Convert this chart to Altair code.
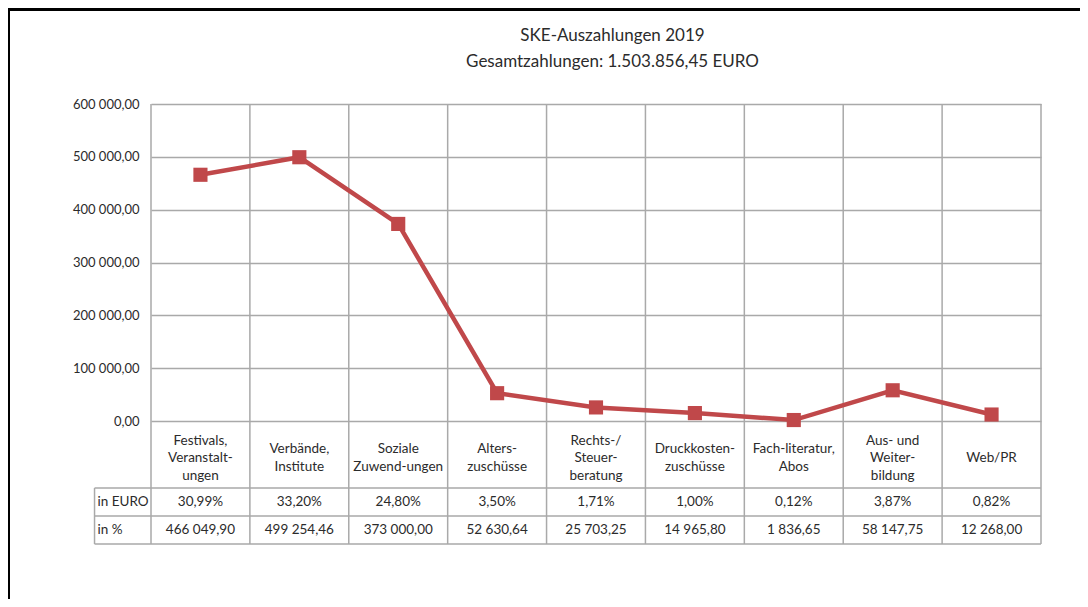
import altair as alt
import pandas as pd

# ---------------- data ----------------
categories = [
    ["Festivals,", "Veranstalt-", "ungen"],
    ["Verbände,", "Institute"],
    ["Soziale", "Zuwend-ungen"],
    ["Alters-", "zuschüsse"],
    ["Rechts-/", "Steuer-", "beratung"],
    ["Druckkosten-", "zuschüsse"],
    ["Fach-literatur,", "Abos"],
    ["Aus- und", "Weiter-", "bildung"],
    ["Web/PR"],
]
values_euro = [466049.90, 499254.46, 373000.00, 52630.64, 25703.25,
               14965.80, 1836.65, 58147.75, 12268.00]
percent_labels = ["30,99%", "33,20%", "24,80%", "3,50%", "1,71%",
                  "1,00%", "0,12%", "3,87%", "0,82%"]
euro_labels = ["466 049,90", "499 254,46", "373 000,00", "52 630,64", "25 703,25",
               "14 965,80", "1 836,65", "58 147,75", "12 268,00"]
row_headers = ["in EURO", "in %"]
y_ticks = [0, 100000, 200000, 300000, 400000, 500000, 600000]
title_lines = ["SKE-Auszahlungen 2019", "Gesamtzahlungen: 1.503.856,45 EURO"]

# ---------------- layout ----------------
N = len(categories)
W, H = 890, 440
Y_MAX = 600000
Y_MIN = -232800          # bottom of table
ROW1_TOP = -126800       # bottom of category-label band
ROW2_TOP = -179800
ROW1_MID = -153300
ROW2_MID = -206300
HEAD_LEFT = -0.571
PAD_L, PAD_T, PAD_R, PAD_B = 143, 96, 39, 55
X_PER_PX = N / W
Y_PER_PX = (Y_MAX - Y_MIN) / H
CAT_MID_PX = 37          # px below the zero line
CAT_LINE_H = 17.5
TITLE_X = (613 - 151.5) * X_PER_PX
TITLE_Y_PX = [68, 42]    # px above the plot top

FONT = "Lato"
GRID = "#a9a9a9"
TXT = "#2b2b2b"
RED = "#c0484a"
FS = 13.5

xs = alt.Scale(domain=[0, N], nice=False, zero=False)
ys = alt.Scale(domain=[Y_MIN, Y_MAX], nice=False, zero=False)
yaxis = alt.Axis(
    values=y_ticks, grid=True, gridColor=GRID, gridWidth=1.5, domain=False,
    ticks=False, labelPadding=12, labelFont=FONT, labelFontSize=13,
    labelColor=TXT, title=None,
    labelExpr="replace(replace(replace(format(datum.value, ',.2f'), '.', '#'), ',', ' '), '#', ',')",
)


def X(field):
    return alt.X(field, scale=xs, axis=None)


def Y(field):
    return alt.Y(field, scale=ys, axis=yaxis)


df = pd.DataFrame({
    "pos": [i + 0.5 for i in range(N)],
    "value": values_euro,
    "cat": ["\n".join(c) for c in categories],
    "pct": percent_labels,
    "eur": euro_labels,
    # first line of each label so that the block is centred in its band
    "cat_y": [-(CAT_MID_PX - (len(c) - 1) * CAT_LINE_H / 2) * Y_PER_PX for c in categories],
    "r1_y": [ROW1_MID] * N,
    "r2_y": [ROW2_MID] * N,
})

# vertical grid / table lines
vx = [float(i) for i in range(N + 1)] + [HEAD_LEFT]
vy1 = [float(Y_MAX)] * (N + 1) + [float(ROW1_TOP)]
vy2 = [float(Y_MIN)] * (N + 2)
vlines = pd.DataFrame({"x": vx, "y1": vy1, "y2": vy2})
v_rules = alt.Chart(vlines).mark_rule(color=GRID, strokeWidth=1.5).encode(
    x=X("x:Q"), y=Y("y1:Q"), y2="y2:Q",
)

hlines = pd.DataFrame({"y": [ROW1_TOP, ROW2_TOP, Y_MIN],
                       "x1": [HEAD_LEFT] * 3, "x2": [float(N)] * 3})
h_rules = alt.Chart(hlines).mark_rule(color=GRID, strokeWidth=1.5).encode(
    y=Y("y:Q"), x=X("x1:Q"), x2="x2:Q",
)

line = alt.Chart(df).mark_line(color=RED, strokeWidth=4.5).encode(
    x=X("pos:Q"), y=Y("value:Q"),
)
points = alt.Chart(df).mark_point(
    shape="square", filled=True, color=RED, size=200, opacity=1).encode(
    x=X("pos:Q"), y=Y("value:Q"),
)

cat_text = alt.Chart(df).mark_text(
    font=FONT, fontSize=FS, color=TXT, lineBreak="\n", lineHeight=CAT_LINE_H,
    align="center", baseline="middle").encode(
    x=X("pos:Q"), y=Y("cat_y:Q"), text="cat:N",
)
pct_text = alt.Chart(df).mark_text(
    font=FONT, fontSize=FS, color=TXT, align="center", baseline="middle").encode(
    x=X("pos:Q"), y=Y("r1_y:Q"), text="pct:N",
)
eur_text = alt.Chart(df).mark_text(
    font=FONT, fontSize=FS, color=TXT, align="center", baseline="middle").encode(
    x=X("pos:Q"), y=Y("r2_y:Q"), text="eur:N",
)
hdr = pd.DataFrame({"label": row_headers, "y": [ROW1_MID, ROW2_MID],
                    "x": [HEAD_LEFT] * 2})
hdr_text = alt.Chart(hdr).mark_text(
    font=FONT, fontSize=FS, color=TXT, align="left", baseline="middle", dx=3).encode(
    x=X("x:Q"), y=Y("y:Q"), text="label:N",
)

# chart title (two centred lines)
ttl = pd.DataFrame({"t": title_lines, "x": [TITLE_X] * 2,
                    "y": [Y_MAX + p * Y_PER_PX for p in TITLE_Y_PX]})
title_text = alt.Chart(ttl).mark_text(
    font=FONT, fontSize=17, color=TXT, align="center", baseline="middle").encode(
    x=X("x:Q"), y=Y("y:Q"), text="t:N",
)

# outer frame (top and left edges of the cropped picture), in data units
fx_left = -(PAD_L - 0.5) * X_PER_PX
fx_right = (W + PAD_R) * X_PER_PX
fy_top = Y_MAX + (PAD_T - 1.5) * Y_PER_PX
fy_bottom = Y_MIN - PAD_B * Y_PER_PX
frame = pd.DataFrame({
    "x1": [fx_left - 1.5 * X_PER_PX, fx_left],
    "x2": [fx_right, fx_left],
    "y1": [fy_top, fy_top + 1.5 * Y_PER_PX],
    "y2": [fy_top, fy_bottom],
})
frame_rules = alt.Chart(frame).mark_rule(color="black", strokeWidth=3).encode(
    x=X("x1:Q"), x2="x2:Q", y=Y("y1:Q"), y2="y2:Q",
)

chart = alt.layer(
    v_rules, h_rules, line, points,
    cat_text, pct_text, eur_text, hdr_text, title_text, frame_rules,
).properties(
    width=W, height=H,
    autosize=alt.AutoSizeParams(type="none"),
    padding={"left": PAD_L, "top": PAD_T, "right": PAD_R, "bottom": PAD_B},
).configure_view(strokeWidth=0)

chart.save("out.html", embed_options={"renderer": "svg", "actions": False})
